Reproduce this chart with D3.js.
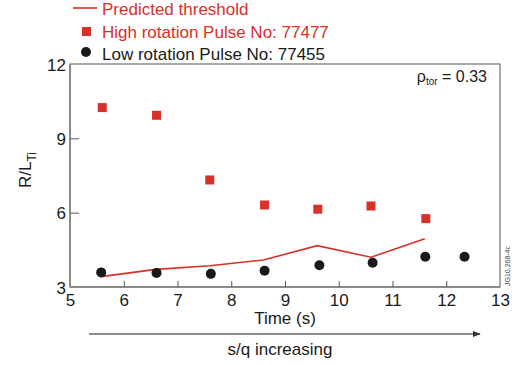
<!DOCTYPE html>
<html><head><meta charset="utf-8">
<script src="https://cdn.jsdelivr.net/npm/d3@7"></script>
<style>body{margin:0;background:#fff}svg{display:block}text{font-family:"Liberation Sans",Arial,sans-serif}</style>
</head><body><svg id="c" width="520" height="365"></svg>
<script>
const highX = [5.60, 6.61, 7.60, 8.62, 9.61, 10.60, 11.62];
const highY = [10.24, 9.93, 7.32, 6.31, 6.14, 6.27, 5.76];
const lowX = [5.58, 6.61, 7.62, 8.62, 9.64, 10.63, 11.61, 12.34];
const lowY = [3.59, 3.57, 3.53, 3.66, 3.88, 3.98, 4.22, 4.22];
const predX = [5.58, 6.6, 7.6, 8.6, 9.6, 10.6, 11.6];
const predY = [3.42, 3.71, 3.86, 4.09, 4.67, 4.20, 4.95];
const xTicks = [5, 6, 7, 8, 9, 10, 11, 12, 13];
const yTicks = [3, 6, 9, 12];
const legendLabels = ["Predicted threshold", "High rotation Pulse No: 77477", "Low rotation Pulse No: 77455"];

const RED = "#d9302a", BLACK = "#1a1a1a", AX = "#8a8a8a";
const svg = d3.select("#c");
const L = 70, R = 500, T = 64, B = 287;
const x = d3.scaleLinear().domain([5, 13]).range([L, R]);
const y = d3.scaleLinear().domain([3, 12]).range([B, T]);

// frame
svg.append("rect").attr("x", L).attr("y", T).attr("width", R - L).attr("height", B - T)
  .attr("fill", "none").attr("stroke", "#555").attr("stroke-width", 1);
svg.append("line").attr("x1", L).attr("x2", L).attr("y1", T).attr("y2", B).attr("stroke", AX).attr("stroke-width", 2);
svg.append("line").attr("x1", L).attr("x2", R).attr("y1", B).attr("y2", B).attr("stroke", AX).attr("stroke-width", 2);

// x axis
const xa = svg.append("g").attr("transform", `translate(0,${B})`)
  .call(d3.axisBottom(x).tickValues(xTicks).tickSizeInner(-6).tickSizeOuter(0).tickPadding(10));
xa.select(".domain").remove();
xa.selectAll("line").attr("stroke", "#555");
xa.selectAll("text").attr("font-size", 17).attr("fill", BLACK).attr("dy", "0.55em");
xa.selectAll(".tick").filter(d => d === 5 || d === 13).select("line").remove();

// y axis
const ya = svg.append("g").attr("transform", `translate(${L},0)`)
  .call(d3.axisLeft(y).tickValues(yTicks).tickSizeInner(-9).tickSizeOuter(0).tickPadding(4));
ya.select(".domain").remove();
ya.selectAll("line").attr("stroke", "#555");
ya.selectAll("text").attr("font-size", 17).attr("fill", BLACK).attr("dy", "0.36em");
ya.selectAll(".tick").filter(d => d === 3 || d === 12).select("line").remove();

// predicted line
const pred = predX.map((v, i) => [v, predY[i]]);
svg.append("path").datum(pred)
  .attr("d", d3.line().x(d => x(d[0])).y(d => y(d[1])))
  .attr("fill", "none").attr("stroke", RED).attr("stroke-width", 1.6);

// high rotation squares
const s = 9;
svg.selectAll("rect.hi").data(highX.map((v, i) => [v, highY[i]])).enter().append("rect")
  .attr("class", "hi").attr("x", d => x(d[0]) - s / 2).attr("y", d => y(d[1]) - s / 2)
  .attr("width", s).attr("height", s).attr("fill", RED);

// low rotation circles
svg.selectAll("circle.lo").data(lowX.map((v, i) => [v, lowY[i]])).enter().append("circle")
  .attr("class", "lo").attr("cx", d => x(d[0])).attr("cy", d => y(d[1])).attr("r", 5)
  .attr("fill", BLACK);

// legend
svg.append("line").attr("x1", 73).attr("x2", 97).attr("y1", 8).attr("y2", 8).attr("stroke", RED).attr("stroke-width", 1.6);
svg.append("rect").attr("x", 82).attr("y", 27).attr("width", 9).attr("height", 9).attr("fill", RED);
svg.append("circle").attr("cx", 86).attr("cy", 52).attr("r", 5).attr("fill", BLACK);
const lg = [[legendLabels[0], 15, RED], [legendLabels[1], 38, RED], [legendLabels[2], 60, BLACK]];
lg.forEach(([t, yy, c]) => svg.append("text").attr("x", 102).attr("y", yy).attr("font-size", 17).attr("fill", c).text(t));

// axis titles
svg.append("text").attr("x", 285).attr("y", 324).attr("text-anchor", "middle").attr("font-size", 17).attr("fill", BLACK).text("Time (s)");
const yl = svg.append("text").attr("transform", "translate(31,170) rotate(-90)").attr("text-anchor", "middle").attr("font-size", 17).attr("fill", BLACK);
yl.append("tspan").text("R/L");
yl.append("tspan").attr("font-size", 12).attr("dy", 5).text("Ti");

// arrow
svg.append("defs").append("marker").attr("id", "ah").attr("viewBox", "0 0 10 10").attr("refX", 9).attr("refY", 5)
  .attr("markerWidth", 6).attr("markerHeight", 6).attr("orient", "auto")
  .append("path").attr("d", "M0,1L10,5L0,9Z").attr("fill", "#333");
svg.append("line").attr("x1", 89).attr("x2", 480).attr("y1", 334).attr("y2", 334)
  .attr("stroke", "#666").attr("stroke-width", 1.3).attr("marker-end", "url(#ah)");
svg.append("text").attr("x", 280).attr("y", 355).attr("text-anchor", "middle").attr("font-size", 17).attr("fill", BLACK).text("s/q increasing");

// rho annotation
const rho = svg.append("text").attr("x", 487).attr("y", 82).attr("text-anchor", "end").attr("font-size", 16).attr("fill", BLACK);
rho.append("tspan").text("ρ");
rho.append("tspan").attr("font-size", 10).attr("dy", 3).text("tor");
rho.append("tspan").attr("dy", -3).text(" = 0.33");

// figure id
svg.append("text").attr("transform", "translate(510,286) rotate(-90)").attr("font-size", 7).attr("fill", "#444").text("JG10.268-4c");
</script></body></html>
